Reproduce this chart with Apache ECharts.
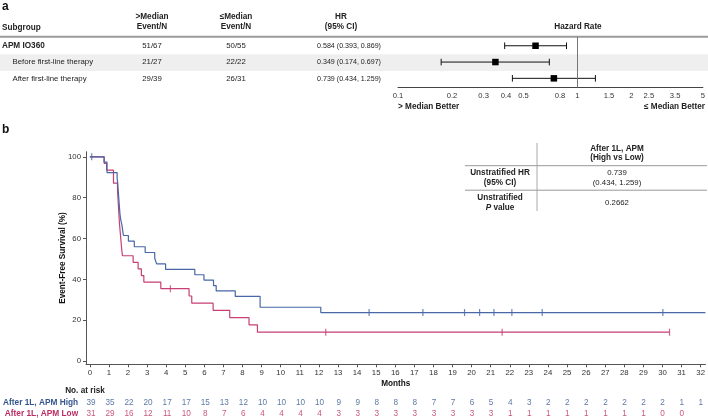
<!DOCTYPE html>
<html><head><meta charset="utf-8">
<script src="https://cdn.jsdelivr.net/npm/echarts@6/dist/echarts.min.js"></script>
<style>html,body{margin:0;padding:0;background:#fff}#c{width:708px;height:418px}</style>
</head><body><div id="c"></div>
<script>
// ---------- data: panel a ----------
const subgroups = ['APM IO360', 'Before first-line therapy', 'After first-line therapy'];
const highEventN = ['51/67', '21/27', '29/39'];
const lowEventN = ['50/55', '22/22', '26/31'];
const hr = [0.584, 0.349, 0.739];
const hrLow = [0.393, 0.174, 0.434];
const hrHigh = [0.869, 0.697, 1.259];
const forestTicks = [0.1, 0.2, 0.3, 0.4, 0.5, 0.8, 1, 1.5, 2, 2.5, 3.5, 5];

// ---------- data: panel b ----------
const kmHigh = [[0,100],[0.75,97.4],[0.9,92.3],[1.43,89.7],[1.46,87.2],[1.48,84.6],[1.5,82.0],[1.52,79.5],[1.54,76.9],[1.56,74.4],[1.58,71.8],[1.62,69.2],[1.68,66.7],[1.72,64.1],[1.76,61.5],[2.02,58.8],[2.33,56.0],[2.9,53.2],[3.4,50.4],[3.5,47.6],[3.97,44.9],[5.5,42.3],[5.98,39.7],[6.48,37.0],[6.62,34.4],[7.62,31.7],[8.92,26.4],[12.1,23.8],[32.25,23.8]];
const kmLow = [[0,100],[0.75,96.8],[0.88,93.5],[1.24,87.1],[1.45,83.9],[1.47,80.6],[1.49,77.4],[1.51,74.2],[1.53,71.0],[1.55,67.7],[1.58,64.5],[1.61,61.3],[1.64,58.1],[1.67,54.8],[1.71,51.6],[2.27,48.4],[2.53,45.2],[2.7,41.9],[2.83,38.7],[3.72,35.5],[5.2,31.9],[5.34,28.4],[6.46,24.9],[7.33,21.3],[8.34,17.8],[8.78,14.2],[30.37,14.2]];
const censorHigh = [[0.1,100],[14.63,23.8],[17.45,23.8],[19.63,23.8],[20.42,23.8],[21.17,23.8],[22.11,23.8],[23.7,23.8],[30.02,23.8]];
const censorLow = [[4.22,35.5],[12.36,14.2],[21.6,14.2],[30.37,14.2]];
const months = [0,1,2,3,4,5,6,7,8,9,10,11,12,13,14,15,16,17,18,19,20,21,22,23,24,25,26,27,28,29,30,31,32];
const atRiskHigh = [39,35,22,20,17,17,15,13,12,10,10,10,10,9,9,8,8,8,7,7,6,5,4,3,2,2,2,2,2,2,2,1,1];
const atRiskLow = [31,29,16,12,11,10,8,7,6,4,4,4,4,3,3,3,3,3,3,3,3,3,1,1,1,1,1,1,1,1,0,0];
const yTicks = [0,20,40,60,80,100];
const groupNames = ['After 1L, APM High', 'After 1L, APM Low'];
const pValue = '0.2662';

// ---------- styles ----------
const FONT = 'Liberation Sans, Arial, Helvetica, sans-serif';
const BLUE = '#4767a6', BLUE_T = '#35568f';
const RED = '#c73f74', RED_T = '#bb2c62';
const TXT = '#222';
const fs = 7.8;
const fb = 8.2;

const chart = echarts.init(document.getElementById('c'), null, {renderer: 'canvas'});

function txt(text, x, y, opt) {
  opt = opt || {};
  return {type: 'text', z: 10, style: Object.assign({
    text: text, x: x, y: y, fill: TXT, fontFamily: FONT, fontSize: fs,
    align: 'center', verticalAlign: 'middle'}, opt)};
}
function hline(x1, x2, y, color, w) {
  return {type: 'line', z: 5, shape: {x1: x1, y1: y, x2: x2, y2: y}, style: {stroke: color, lineWidth: w}};
}
const fmt = v => v.toFixed(3);
const rowY = [46, 62.3, 78.8];

const graphics = [];
graphics.push(txt('a', 2, 7, {align: 'left', fontWeight: 'bold', fontSize: 12, fill: '#111'}));
graphics.push(txt('b', 2, 130, {align: 'left', fontWeight: 'bold', fontSize: 12, fill: '#111'}));
graphics.push({type: 'rect', z: -1, shape: {x: 0, y: 54.3, width: 708, height: 16.6}, style: {fill: '#efefef'}});
graphics.push(hline(0, 708, 36.8, '#9a9a9a', 2));
const hb = {fontWeight: 'bold', fontSize: fb};
graphics.push(txt('Subgroup', 2, 27.3, Object.assign({align: 'left'}, hb)));
graphics.push(txt('>Median', 152, 16.5, hb));
graphics.push(txt('Event/N', 152, 26.8, hb));
graphics.push(txt('\u2264Median', 236, 16.5, hb));
graphics.push(txt('Event/N', 236, 26.8, hb));
graphics.push(txt('HR', 341, 16.5, hb));
graphics.push(txt('(95% CI)', 341, 26.8, hb));
graphics.push(txt('Hazard Rate', 578, 26.8, hb));
subgroups.forEach((s, i) => {
  graphics.push(txt(s, i === 0 ? 2 : 12.5, rowY[i], {align: 'left', fontWeight: i === 0 ? 'bold' : 'normal', fontSize: i === 0 ? fb : fs}));
  graphics.push(txt(highEventN[i], 152, rowY[i]));
  graphics.push(txt(lowEventN[i], 236, rowY[i]));
  graphics.push(txt(fmt(hr[i]) + ' (' + fmt(hrLow[i]) + ', ' + fmt(hrHigh[i]) + ')', 349, rowY[i], {fontSize: 7.1}));
});
graphics.push(txt('> Median Better', 398, 106.7, {align: 'left', fontWeight: 'bold', fontSize: fb}));
graphics.push(txt('\u2264 Median Better', 705, 106.7, {align: 'right', fontWeight: 'bold', fontSize: fb}));

// inset table
graphics.push({type: 'line', z: 5, shape: {x1: 537, y1: 143, x2: 537, y2: 211}, style: {stroke: '#aaa', lineWidth: 1}});
graphics.push(hline(465, 707, 165.7, '#999', 1));
graphics.push(hline(465, 707, 190.2, '#999', 1));
graphics.push(txt('After 1L, APM', 617, 148.3, hb));
graphics.push(txt('(High vs Low)', 617, 157.5, hb));
graphics.push(txt('Unstratified HR', 500, 172.7, hb));
graphics.push(txt('(95% CI)', 500, 182.5, hb));
graphics.push(txt(fmt(hr[2]), 617, 172.7));
graphics.push(txt('(' + fmt(hrLow[2]) + ', ' + fmt(hrHigh[2]) + ')', 617, 182.5));
graphics.push(txt('Unstratified', 500, 197.7, hb));
graphics.push({type: 'text', z: 10, style: {text: '{i|P} value', x: 500, y: 207.7, align: 'center', verticalAlign: 'middle',
  fill: TXT, fontFamily: FONT, fontSize: fb, fontWeight: 'bold',
  rich: {i: {fontStyle: 'italic', fontWeight: 'bold', fontSize: fb, fontFamily: FONT, fill: TXT}}}});
graphics.push(txt(pValue, 617, 203.3));
graphics.push(txt('No. at risk', 85, 390.7, hb));

const log10 = Math.log10;
const forestData = hr.map((v, i) => [log10(v), i, log10(hrLow[i]), log10(hrHigh[i])]);

const option = {
  animation: false,
  textStyle: {fontFamily: FONT},
  graphic: graphics,
  grid: [
    {left: 398, right: 3, top: 36.8, height: 50.5},
    {left: 86, right: 2.5, top: 151.7, height: 212.6},
    {left: 86, right: 2.5, top: 402.7, height: 11.4}
  ],
  xAxis: [
    {gridIndex: 0, type: 'value', min: -1, max: log10(5),
      axisLine: {show: true, onZero: false, lineStyle: {color: '#444', width: 1}},
      axisTick: {show: false}, splitLine: {show: false},
      axisLabel: {customValues: forestTicks.map(log10), fontSize: 7.6, color: '#333', margin: 4.5,
        formatter: v => String(parseFloat(Math.pow(10, v).toPrecision(2)))}},
    {gridIndex: 1, type: 'value', min: -0.2, max: 32.25,
      name: 'Months', nameLocation: 'middle', nameGap: 15.5, nameMoveOverlap: false,
      nameTextStyle: {fontWeight: 'bold', fontSize: fb, color: '#111'},
      axisLine: {show: true, onZero: false, lineStyle: {color: '#555', width: 1}},
      axisTick: {show: true, customValues: months, length: 3, lineStyle: {color: '#555'}},
      splitLine: {show: false},
      axisLabel: {customValues: months, fontSize: 7.8, color: '#333', margin: 5}},
    {gridIndex: 2, type: 'value', min: -0.2, max: 32.25, show: false}
  ],
  yAxis: [
    {gridIndex: 0, type: 'value', inverse: true, min: -0.55, max: 2.55, show: false},
    {gridIndex: 1, type: 'value', min: -1.5, max: 102.5,
      name: 'Event-Free Survival (%)', nameLocation: 'middle', nameGap: 19, nameRotate: 90, nameMoveOverlap: false,
      nameTextStyle: {fontWeight: 'bold', fontSize: fb, color: '#111'},
      axisLine: {show: true, onZero: false, lineStyle: {color: '#555', width: 1}},
      axisTick: {show: true, customValues: yTicks, length: 3, lineStyle: {color: '#555'}},
      splitLine: {show: false},
      axisLabel: {customValues: yTicks, fontSize: 7.8, color: '#333', margin: 5}},
    {gridIndex: 2, type: 'category', data: groupNames, inverse: true, boundaryGap: false,
      axisLine: {show: false}, axisTick: {show: false},
      axisLabel: {margin: 9, fontSize: 8.3, fontWeight: 'bold',
        formatter: (v, i) => (i === 0 ? '{h|' : '{l|') + v + '}',
        rich: {h: {color: BLUE_T, fontWeight: 'bold', fontSize: 8.3}, l: {color: RED_T, fontWeight: 'bold', fontSize: 8.3}}}}
  ],
  series: [
    {type: 'line', xAxisIndex: 0, yAxisIndex: 0, data: [], silent: true,
      markLine: {symbol: 'none', silent: true, label: {show: false},
        lineStyle: {color: '#777', width: 1, type: 'solid'}, data: [{xAxis: 0}]}},
    {type: 'custom', xAxisIndex: 0, yAxisIndex: 0, data: forestData,
      renderItem: function (params, api) {
        const y = api.value(1);
        const c = api.coord([api.value(0), y]);
        const lo = api.coord([api.value(2), y]);
        const hi = api.coord([api.value(3), y]);
        const st = {stroke: '#111', lineWidth: 1};
        const cap = 3.3, sq = 6.5;
        return {type: 'group', children: [
          {type: 'line', shape: {x1: lo[0], y1: c[1], x2: hi[0], y2: c[1]}, style: st},
          {type: 'line', shape: {x1: lo[0], y1: c[1] - cap, x2: lo[0], y2: c[1] + cap}, style: st},
          {type: 'line', shape: {x1: hi[0], y1: c[1] - cap, x2: hi[0], y2: c[1] + cap}, style: st},
          {type: 'rect', shape: {x: c[0] - sq / 2, y: c[1] - sq / 2, width: sq, height: sq}, style: {fill: '#000'}}
        ]};
      }},
    {type: 'line', xAxisIndex: 1, yAxisIndex: 1, data: kmHigh, step: 'end', showSymbol: false,
      lineStyle: {color: BLUE, width: 1.2}, z: 3},
    {type: 'line', xAxisIndex: 1, yAxisIndex: 1, data: kmLow, step: 'end', showSymbol: false,
      lineStyle: {color: RED, width: 1.2}, z: 2},
    {type: 'scatter', xAxisIndex: 1, yAxisIndex: 1, data: censorHigh, symbol: 'rect', symbolSize: [1.2, 7],
      itemStyle: {color: BLUE}, z: 4},
    {type: 'scatter', xAxisIndex: 1, yAxisIndex: 1, data: censorLow, symbol: 'rect', symbolSize: [1.2, 7],
      itemStyle: {color: RED}, z: 4},
    {type: 'scatter', xAxisIndex: 2, yAxisIndex: 2, symbolSize: 1, itemStyle: {color: 'rgba(0,0,0,0)'},
      data: months.map((m, i) => [m, 0, atRiskHigh[i]]),
      label: {show: true, position: 'inside', formatter: p => p.value[2], color: BLUE_T, fontSize: 8.2}},
    {type: 'scatter', xAxisIndex: 2, yAxisIndex: 2, symbolSize: 1, itemStyle: {color: 'rgba(0,0,0,0)'},
      data: months.filter((m, i) => i < atRiskLow.length).map((m, i) => [m, 1, atRiskLow[i]]),
      label: {show: true, position: 'inside', formatter: p => p.value[2], color: RED_T, fontSize: 8.2}}
  ]
};
chart.setOption(option);
</script>
</body></html>
